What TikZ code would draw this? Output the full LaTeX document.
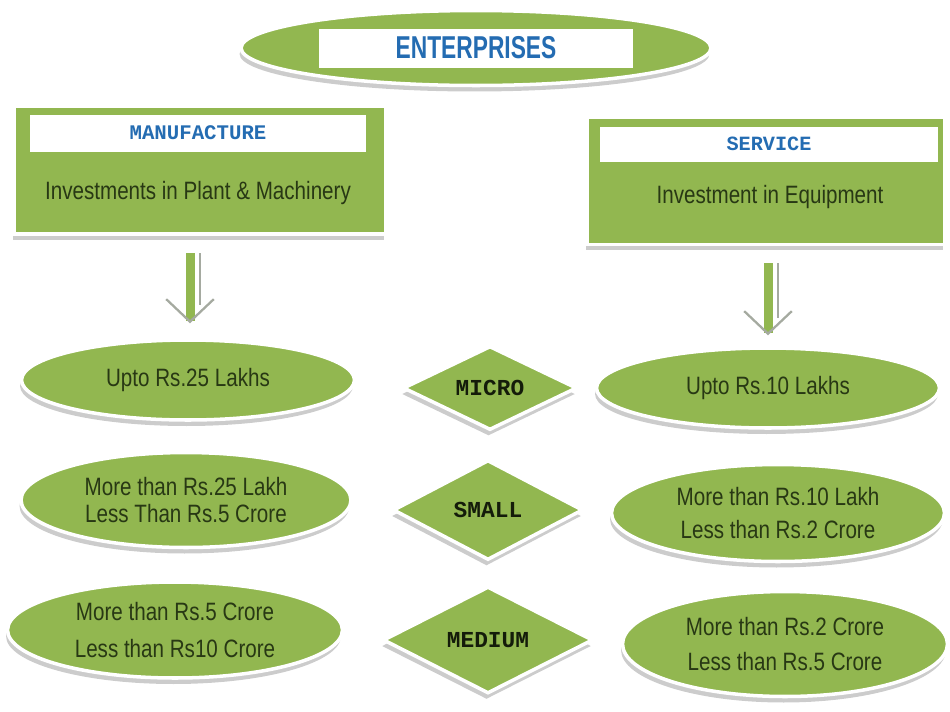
\documentclass[tikz,border=0pt]{standalone}
\usepackage{fontspec}
\setmainfont{Liberation Sans}[FakeStretch=0.82]
\setmonofont{Liberation Mono}
\newfontfamily\entfont{Liberation Sans}[FakeStretch=0.72]
\usepackage{tikz}
\usetikzlibrary{shapes.geometric,shadows,arrows.meta,positioning}
\tikzset{>=latex}
\definecolor{leaf}{RGB}{146,183,80}
\definecolor{darkleaf}{RGB}{40,56,20}
\definecolor{entblue}{RGB}{36,108,178}
\definecolor{rimgray}{RGB}{165,170,160}

\begin{document}
\begin{tikzpicture}[x=0.02cm,y=-0.02cm,
  lift/.style={drop shadow={shadow xshift=-0.03cm,shadow yshift=-0.12cm,fill=gray!80,opacity=0.5}},
  rangeell/.style={ellipse,fill=leaf,draw=white,line width=2pt,lift,inner sep=0pt,text=darkleaf,align=center,font=\fontsize{14.3}{18}\selectfont},
  sizebox/.style={diamond,fill=leaf,draw=white,line width=2pt,lift,inner sep=0pt,text=darkleaf!50!black,font=\ttfamily\bfseries\fontsize{13}{15}\selectfont},
  sector/.style={rectangle,fill=leaf,draw=white,line width=2pt,lift},
  whitebar/.style={fill=white,inner sep=0pt,text=entblue},
  downarrow/.style={draw=leaf,line width=0.18cm,-{Straight Barb[length=0.45cm,width=0.95cm,line width=1.3pt,color=rimgray]}}]
\useasboundingbox (0,0) rectangle (950,711);
% heading
\node[ellipse,fill=leaf,draw=white,line width=2pt,lift,minimum width=9.4cm,minimum height=1.5cm] (ent) at (476,48) {};
\node[whitebar,minimum width=6.28cm,minimum height=0.78cm,font=\entfont\bfseries\fontsize{18}{20}\selectfont] (entlabel) at (ent.center) {ENTERPRISES};
% sectors
\node[sector,minimum width=7.44cm,minimum height=2.56cm] (man) at (200,170) {};
\node[whitebar,minimum width=6.74cm,minimum height=0.74cm,font=\ttfamily\bfseries\fontsize{11.8}{14}\selectfont] (manlabel) at (198,133) {MANUFACTURE};
\node[text=darkleaf,font=\fontsize{14.3}{18}\selectfont] (mantext) at (198,193) {Investments in Plant \& Machinery};
\node[sector,minimum width=7.14cm,minimum height=2.54cm] (ser) at (766,181) {};
\node[whitebar,minimum width=6.76cm,minimum height=0.7cm,font=\ttfamily\bfseries\fontsize{11.5}{14}\selectfont] (serlabel) at (769,144) {SERVICE};
\node[text=darkleaf,font=\fontsize{14.3}{18}\selectfont] (sertext) at (770,197) {Investment in Equipment};
% limits
\node[rangeell,minimum width=6.66cm,minimum height=1.6cm] (m1) at (188,380) {Upto Rs.25 Lakhs};
\node[rangeell,minimum width=6.6cm,minimum height=1.9cm] (m2) at (186,500) {More than Rs.25 Lakh\\[-3pt]Less Than Rs.5 Crore};
\node[rangeell,minimum width=6.7cm,minimum height=1.92cm] (m3) at (175,630) {More than Rs.5 Crore\\[3pt]Less than Rs10 Crore};
\node[rangeell,minimum width=6.86cm,minimum height=1.6cm] (s1) at (768,388) {Upto Rs.10 Lakhs};
\node[rangeell,minimum width=6.66cm,minimum height=1.94cm] (s2) at (778,513) {More than Rs.10 Lakh\\[1pt]Less than Rs.2 Crore};
\node[rangeell,minimum width=6.5cm,minimum height=2.1cm] (s3) at (785,644) {More than Rs.2 Crore\\[2pt]Less than Rs.5 Crore};
% sizes
\node[sizebox,minimum width=3.48cm,minimum height=1.66cm] (micro) at (490,388) {MICRO};
\node[sizebox,minimum width=3.8cm,minimum height=2cm] (small) at (488,510) {SMALL};
\node[sizebox,minimum width=4.2cm,minimum height=2.14cm] (medium) at (488,640) {MEDIUM};
% arrows
\coordinate (ma) at (190,253);
\coordinate (sa) at (768,263);
\draw[rimgray,line width=1pt] ([xshift=0.2cm]ma) -- ++(0,52);
\draw[rimgray,line width=1pt] ([xshift=0.2cm]sa) -- ++(0,55);
\draw[downarrow,shorten >=0.3cm] (ma) -- (ma |- m1.north);
\draw[downarrow,shorten >=0.22cm] (sa) -- (sa |- s1.north);
\end{tikzpicture}
\end{document}
